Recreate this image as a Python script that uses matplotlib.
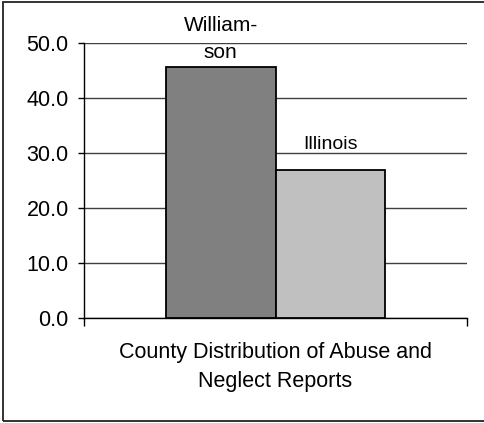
import matplotlib.pyplot as plt
from matplotlib.patches import Rectangle

plt.rcParams['font.family'] = ['Liberation Sans', 'DejaVu Sans']

# datos
category = 'County Distribution of Abuse and\nNeglect Reports'
series = ['William-\nson', 'Illinois']
values = [45.7, 26.9]
colors = ['#808080', '#c0c0c0']
yticks = [0, 10, 20, 30, 40, 50]

fig = plt.figure(figsize=(4.84, 4.23), dpi=100)
ax = fig.add_axes([84 / 484, 1 - 318 / 423, 383 / 484, 275 / 423])

width = 0.286
offsets = [-width / 2, width / 2]
label_pad = [3, 12]
label_size = [15, 14]
for i in range(len(series)):
    ax.bar(offsets[i], values[i], width=width, color=colors[i],
           edgecolor='black', linewidth=1.3, zorder=3)
    ax.annotate(series[i], (offsets[i], values[i]), xytext=(0, label_pad[i]),
                textcoords='offset points', ha='center', va='bottom',
                fontsize=label_size[i], linespacing=1.55, zorder=4)

ax.set_xlim(-0.5, 0.5)
ax.set_ylim(0, 50)
ax.set_yticks(yticks)
ax.set_yticklabels([f'{v:.1f}' for v in yticks], fontsize=15.5)
ax.yaxis.grid(True, color='#404040', linewidth=1.0, zorder=0)
ax.set_axisbelow(True)
ax.tick_params(axis='y', length=4, width=1, pad=7, color='black')

ax.set_xticks([-0.5, 0.5])
ax.set_xticklabels(['', ''])
ax.tick_params(axis='x', length=6, width=1, direction='out')
ax.set_xlabel(category, fontsize=15.5, labelpad=8, linespacing=1.5)

ax.spines['top'].set_visible(False)
ax.spines['right'].set_visible(False)
ax.spines['left'].set_linewidth(1)
ax.spines['bottom'].set_linewidth(1)

# marco exterior
fig.patches.append(Rectangle((3 / 484, 2 / 423), 1.1, 419 / 423,
                             transform=fig.transFigure, fill=False,
                             edgecolor='#222222', linewidth=1.3))

fig.savefig('out.png', dpi=100)
